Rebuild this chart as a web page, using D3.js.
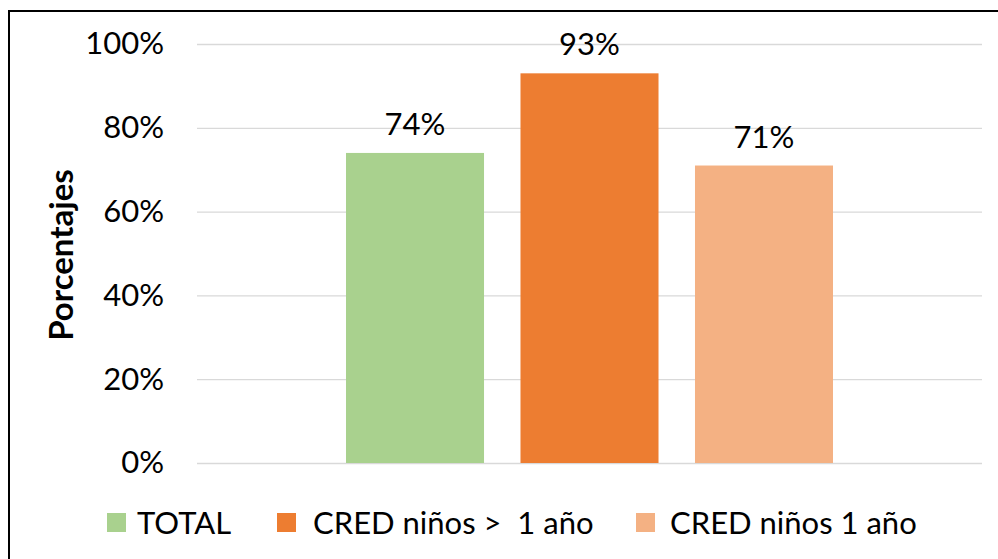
<!DOCTYPE html>
<html><head><meta charset="utf-8">
<script src="https://cdn.jsdelivr.net/npm/d3@7"></script>
<style>html,body{margin:0;padding:0;background:#fff}svg{display:block}</style>
</head><body>
<script>
const series = ["TOTAL", "CRED niños >  1 año", "CRED niños 1 año"];
const values = [0.74, 0.93, 0.71];
const colors = ["#A9D18E", "#ED7D31", "#F4B183"];
const yTicks = [0, 0.2, 0.4, 0.6, 0.8, 1.0];
const yTitle = "Porcentajes";

const W = 998, H = 559;
const font = "Lato, 'Open Sans', sans-serif";
const svg = d3.select("body").append("svg").attr("width", W).attr("height", H);

svg.append("rect").attr("x", 9).attr("y", 11).attr("width", W + 20).attr("height", H + 20)
  .attr("fill", "none").attr("stroke", "#000").attr("stroke-width", 2);

const plot = {left: 197, right: 982, top: 44, bottom: 463};
const y = d3.scaleLinear().domain([0, 1]).range([plot.bottom, plot.top]);
const x = d3.scaleBand().domain(series).range([346, 833]).paddingInner(0.209).paddingOuter(0);

const yAxis = d3.axisLeft(y).tickValues(yTicks).tickFormat(d3.format(".0%")).tickSize(-(plot.right - plot.left)).tickPadding(33);
const g = svg.append("g").attr("transform", `translate(${plot.left},0)`).call(yAxis);
g.select(".domain").remove();
g.selectAll(".tick line").attr("stroke", "#d9d9d9").attr("stroke-width", 1.3);
g.selectAll(".tick text").attr("font-family", font).attr("font-size", 31).attr("fill", "#000");

svg.selectAll("rect.bar").data(values).join("rect").attr("class", "bar")
  .attr("x", (d, i) => x(series[i]))
  .attr("width", x.bandwidth())
  .attr("y", d => y(d)).attr("height", d => y(0) - y(d))
  .attr("fill", (d, i) => colors[i]);

svg.selectAll("text.lbl").data(values).join("text").attr("class", "lbl")
  .attr("x", (d, i) => x(series[i]) + x.bandwidth() / 2)
  .attr("y", d => y(d) - 18)
  .attr("text-anchor", "middle").attr("font-family", font).attr("font-size", 31).attr("fill", "#000")
  .text(d => d3.format(".0%")(d));

svg.append("text").attr("transform", "translate(73,255) rotate(-90)")
  .attr("text-anchor", "middle").attr("font-family", font).attr("font-weight", "bold")
  .attr("font-size", 33).attr("fill", "#000").text(yTitle);

const legX = [107, 277, 636];
const leg = svg.selectAll("g.leg").data(series).join("g").attr("class", "leg")
  .attr("transform", (d, i) => `translate(${legX[i]},513)`);
leg.append("rect").attr("width", 19).attr("height", 19).attr("fill", (d, i) => colors[i]);
leg.append("text").attr("x", (d, i) => i === 0 ? 30 : (i === 1 ? 36 : 34)).attr("y", 21)
  .attr("font-family", font).attr("font-size", 31).attr("fill", "#000")
  .style("white-space", "pre").attr("xml:space", "preserve").text(d => d);
</script>
</body></html>
